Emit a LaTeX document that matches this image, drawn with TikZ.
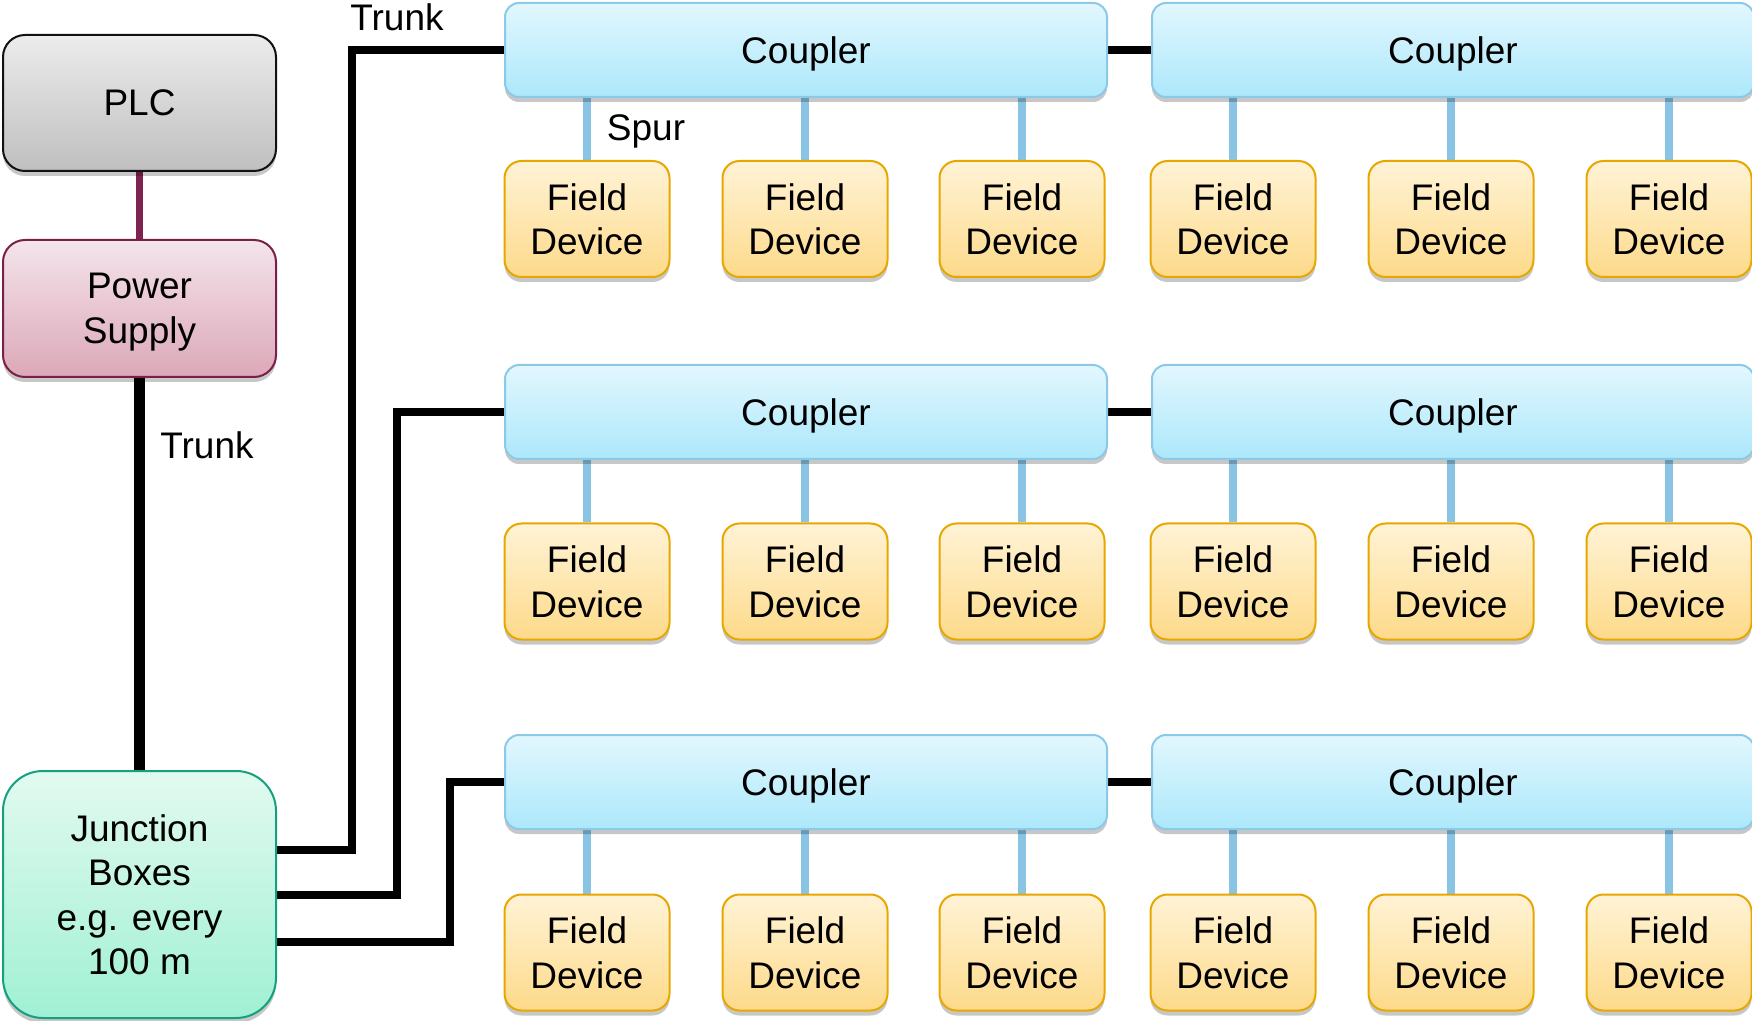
\documentclass[tikz,border=0pt]{standalone}
\usepackage{fontspec}
\setmainfont{Liberation Sans}
\usetikzlibrary{shadows,backgrounds}
\definecolor{plcborder}{HTML}{111111}
\definecolor{psborder}{HTML}{7A2048}
\definecolor{jbborder}{HTML}{14A07E}
\definecolor{cpborder}{HTML}{8CC8E8}
\definecolor{fdborder}{HTML}{E8A600}
\definecolor{spurcol}{HTML}{8AC4E4}
\definecolor{maroonline}{HTML}{7F2350}
\tikzset{
  basebox/.style={rounded corners=8pt, draw, line width=1pt, align=center, inner sep=0pt,
    text depth=0pt,
    font=\fontsize{18.5}{22.3}\selectfont,
    drop shadow={shadow xshift=0pt, shadow yshift=-2.5pt, opacity=0.22, fill=black}},
  plcbox/.style={basebox, rounded corners=11pt, draw=plcborder, top color=gray!15, bottom color=gray!50,
    minimum width=136.5pt, minimum height=68pt},
  psbox/.style={basebox, rounded corners=11pt, draw=psborder, top color={rgb,255:red,244;green,228;blue,235}, bottom color={rgb,255:red,220;green,168;blue,184},
    minimum width=136.5pt, minimum height=68.5pt},
  jbox/.style={basebox, rounded corners=20pt, draw=jbborder, top color={rgb,255:red,226;green,250;blue,240}, bottom color={rgb,255:red,160;green,240;blue,212},
    minimum width=136.5pt, minimum height=123.5pt},
  coupler/.style={basebox, rounded corners=7pt, draw=cpborder, top color={rgb,255:red,226;green,247;blue,254}, bottom color={rgb,255:red,172;green,232;blue,251},
    minimum width=301pt, minimum height=47pt},
  fdev/.style={basebox, rounded corners=8.5pt, draw=fdborder, top color={rgb,255:red,255;green,243;blue,214}, bottom color={rgb,255:red,253;green,218;blue,138},
    minimum width=82.5pt, minimum height=58pt},
  trunk/.style={line width=3.6pt, black},
  thicktrunk/.style={line width=5.5pt, black},
  spur/.style={line width=4pt, spurcol},
  lbl/.style={inner sep=0pt, text depth=0pt, font=\fontsize{18.5}{22.3}\selectfont}
}
\begin{document}
\begin{tikzpicture}[x=0.5pt,y=-0.5pt]
\useasboundingbox (0,0) rectangle (1752,1021);
\node[plcbox] (plc) at (139.5,103) {PLC};
\node[psbox] (ps) at (139.5,308.5) {Power\\Supply};
\node[jbox] (jb) at (139.5,894.5) {Junction\\Boxes\\e.g. every\\100 m};
\foreach \r/\y/\fy in {1/50/219, 2/412/581.5, 3/782/952.5} {
  \node[coupler] (c\r1) at (806,\y) {Coupler};
  \node[coupler] (c\r2) at (1453,\y) {Coupler};
  \foreach \i/\x in {1/587,2/805,3/1022,4/1233,5/1451,6/1669}
    \node[fdev] (f\r\i) at (\x,\fy) {Field\\Device};
}
\node[lbl] (tl1) at (397,17) {Trunk};
\node[lbl] (tl2) at (207,445) {Trunk};
\node[lbl] (sl) at (646,128) {Spur};
\begin{pgfonlayer}{background}
  \draw[line width=3.8pt, maroonline] (plc.south) -- (ps.north);
  \draw[thicktrunk] (ps.south) -- (jb.north);
  \draw[trunk] (jb.east |- {(0,850)}) -| (352,50) -- (c11.west);
  \draw[trunk] (jb.east |- {(0,895)}) -| (397,412) -- (c21.west);
  \draw[trunk] (jb.east |- {(0,942)}) -| (450,782) -- (c31.west);
  \foreach \r in {1,2,3} {
    \draw[trunk] (c\r1.east) -- (c\r2.west);
    \foreach \i in {1,...,6}
      \draw[spur] (f\r\i.north) -- (f\r\i.north |- c\r1.south);
  }
\end{pgfonlayer}
\end{tikzpicture}
\end{document}
